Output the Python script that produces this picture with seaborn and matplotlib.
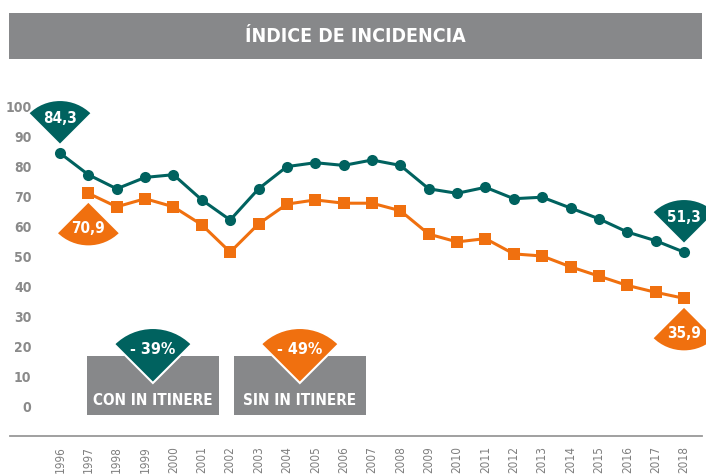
import numpy as np
import pandas as pd
import matplotlib
matplotlib.use("Agg")
import matplotlib.pyplot as plt
import matplotlib.transforms as mtransforms
from matplotlib.patches import Wedge, Rectangle
import seaborn as sns

sns.set_style("white")
plt.rcParams["font.family"] = ["DejaVu Sans"]
plt.rcParams["font.stretch"] = "condensed"

TEAL = "#00625F"
ORANGE = "#F0700F"
GRAY = "#87888A"
TXT_GRAY = "#8A8A8A"

years = list(range(1996, 2019))
con_itinere = [84.3, 77.1, 72.4, 76.2, 77.1, 68.7, 62.0, 72.4, 79.8, 81.1, 80.2, 82.0,
               80.2, 72.4, 70.9, 72.9, 69.1, 69.6, 66.0, 62.4, 58.0, 55.1, 51.3]
sin_years = list(range(1997, 2019))
sin_itinere = [70.9, 66.4, 69.1, 66.4, 60.4, 51.3, 60.7, 67.3, 68.7, 67.6, 67.6,
               65.1, 57.3, 54.7, 55.8, 50.7, 50.0, 46.4, 43.3, 40.2, 37.9, 35.9]
y_ticks = [0, 10, 20, 30, 40, 50, 60, 70, 80, 90, 100]
title = "ÍNDICE DE INCIDENCIA"
box_labels = ["CON IN ITINERE", "SIN IN ITINERE"]
change_labels = ["- 39%", "- 49%"]

df = pd.concat([
    pd.DataFrame({"year": years, "value": con_itinere, "serie": "con"}),
    pd.DataFrame({"year": sin_years, "value": sin_itinere, "serie": "sin"}),
])

fig = plt.figure(figsize=(7.06, 4.75), dpi=100)
ax = fig.add_axes([10 / 706, (475 - 435.7) / 475, 692 / 706, (435.7 - 95) / 475])

sns.lineplot(data=df, x="year", y="value", hue="serie", style="serie",
             palette={"con": TEAL, "sin": ORANGE},
             markers={"con": "o", "sin": "s"}, dashes=False,
             markersize=8, markeredgewidth=0, linewidth=2.2,
             legend=False, ax=ax)

ax.set_xlim(1996 - 50 / 28.364, 1996 + 642 / 28.364)
ax.set_ylim(-9.9, 103.67)
ax.set_xlabel("")
ax.set_ylabel("")
for s in ["top", "right", "left"]:
    ax.spines[s].set_visible(False)
ax.spines["bottom"].set_color("#999999")
ax.spines["bottom"].set_linewidth(1.3)

ax.set_xticks(years)
ax.set_xticklabels([str(y) for y in years], rotation=90, fontsize=8.5,
                   color="#7F7F7F", fontstretch="condensed")
ax.tick_params(axis="x", direction="inout", length=9, width=1.1,
               color="#999999", pad=3)
ax.set_yticks(y_ticks)
ax.set_yticklabels([str(v) for v in y_ticks], fontsize=10,
                   fontweight="bold", color=TXT_GRAY, fontstretch="condensed")
ax.tick_params(axis="y", length=0, pad=-15.5)


def callout(x, y, text, color, up=True, r=45, off=27, size=11, zt=6):
    # wedge with its tip on (x, y) in data coords, sized in pixels
    trans = mtransforms.Affine2D() + mtransforms.ScaledTranslation(x, y, ax.transData)
    th = (45, 135) if up else (225, 315)
    w = Wedge((0, 0), r, th[0], th[1], facecolor=color, edgecolor="white",
              linewidth=1.5, transform=trans, zorder=zt, clip_on=False)
    ax.add_patch(w)
    dy = off if up else -off
    ax.text(0, dy, text, transform=trans, ha="center", va="center",
            color="white", fontsize=size, fontweight="bold",
            fontstretch="condensed", zorder=zt + 1)


callout(years[0], con_itinere[0] + 2.7, "84,3", TEAL, up=True)
callout(sin_years[0], sin_itinere[0] - 2.7, "70,9", ORANGE, up=False)
callout(years[-1], con_itinere[-1] + 2.7, "51,3", TEAL, up=True)
callout(sin_years[-1], sin_itinere[-1] - 2.7, "35,9", ORANGE, up=False)

# summary boxes
for x0, lab, ch, col in [(1996.95, box_labels[0], change_labels[0], TEAL),
                         (2002.13, box_labels[1], change_labels[1], ORANGE)]:
    ax.add_patch(Rectangle((x0, -3), 4.65, 19.7, facecolor=GRAY,
                           edgecolor="none", zorder=3))
    ax.text(x0 + 4.65 / 2, 2, lab, ha="center", va="center", color="white",
            fontsize=11, fontweight="bold", fontstretch="condensed", zorder=4)
    callout(x0 + 4.65 / 2, 7.67, ch, col, up=True, r=55, off=33, size=11.5)

# header band
fig.patches.append(Rectangle((9 / 706, 1 - 59 / 475), 693 / 706, 46 / 475,
                             transform=fig.transFigure, facecolor=GRAY,
                             edgecolor="none"))
fig.text(355 / 706, 1 - 37 / 475, title, ha="center", va="center",
         color="white", fontsize=14, fontweight="bold", fontstretch="condensed")

fig.savefig("out.png", dpi=100)
